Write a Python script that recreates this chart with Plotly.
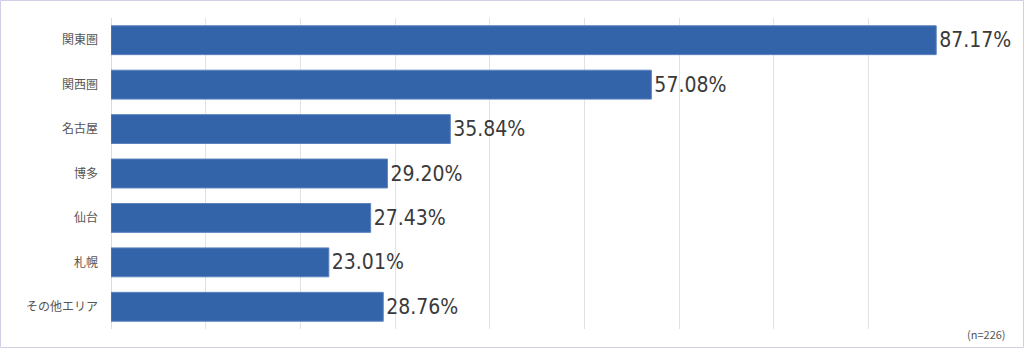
import plotly.graph_objects as go

# Survey result: share of respondents per area (n=226)
areas = ["関東圏", "関西圏", "名古屋", "博多", "仙台", "札幌", "その他エリア"]
shares = [87.17, 57.08, 35.84, 29.20, 27.43, 23.01, 28.76]
sample_note = "(n=226)"

W, H = 1024, 348
L, R, T, B = 111, 61, 18, 19
pw, ph = W - L - R, H - T - B

fig = go.Figure(
    go.Bar(
        x=shares,
        y=areas,
        orientation="h",
        marker=dict(color="#3363a8", line=dict(color="#5c82bf", width=1)),
        text=[f"{v:.2f}%" for v in shares],
        textposition="outside",
        textfont=dict(family="DejaVu Sans Condensed, Roboto, sans-serif", size=21, color="#3a3a3a"),
        cliponaxis=False,
        hoverinfo="skip",
    )
)

fig.update_layout(
    width=W,
    height=H,
    margin=dict(l=L, r=R, t=T, b=B),
    paper_bgcolor="white",
    plot_bgcolor="white",
    bargap=0.35,
    showlegend=False,
    xaxis=dict(
        range=[0, 90],
        dtick=10,
        showticklabels=False,
        showgrid=True,
        gridcolor="#e2e2e2",
        gridwidth=1,
        zeroline=True,
        zerolinecolor="#dcdcdc",
        zerolinewidth=1,
        fixedrange=True,
    ),
    yaxis=dict(
        autorange="reversed",
        tickfont=dict(family="Noto Sans CJK JP, sans-serif", size=12, color="#555555"),
        ticks="",
        ticklabelstandoff=12,
        showgrid=False,
        fixedrange=True,
    ),
    annotations=[
        dict(
            text=sample_note,
            xref="paper",
            yref="paper",
            x=(1008 - L) / pw,
            y=(T + ph - 334) / ph,
            xanchor="right",
            yanchor="middle",
            showarrow=False,
            font=dict(family="Noto Sans CJK JP, sans-serif", size=11, color="#555555"),
        )
    ],
    shapes=[
        dict(
            type="rect",
            xref="paper",
            yref="paper",
            x0=(-L + 0.5) / pw,
            x1=1 + (R - 0.5) / pw,
            y0=(-B + 0.5) / ph,
            y1=1 + (T - 0.5) / ph,
            line=dict(color="#cfd0e6", width=1),
            layer="above",
        )
    ],
)

fig.write_html("out.html")
